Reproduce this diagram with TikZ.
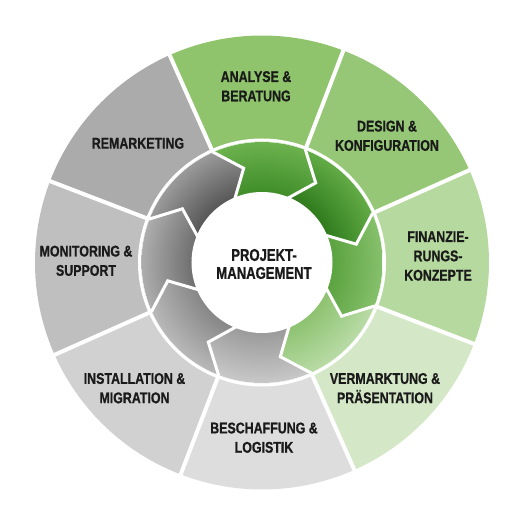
\documentclass[tikz,border=0pt]{standalone}
\usepackage{fontspec}
\newfontface\condbold[FakeStretch=0.80,FakeBold=0.8]{Liberation Sans Bold}
\newfontface\condboldc[FakeStretch=0.77,FakeBold=0.8]{Liberation Sans Bold}
\definecolor{txt}{HTML}{1A1A1A}
\definecolor{segA}{HTML}{8FC46C}
\definecolor{segB}{HTML}{96C776}
\definecolor{segC}{HTML}{B5D99F}
\definecolor{segD}{HTML}{D4E8C7}
\definecolor{segE}{HTML}{DDDDDD}
\definecolor{segF}{HTML}{D1D1D1}
\definecolor{segG}{HTML}{BFBFBF}
\definecolor{segH}{HTML}{ABABAB}
\definecolor{arAi}{HTML}{3E8C28}\definecolor{arAo}{HTML}{6CB24F}
\definecolor{arBi}{HTML}{2E7A1C}\definecolor{arBo}{HTML}{62AB46}
\definecolor{arCi}{HTML}{5AA23F}\definecolor{arCo}{HTML}{86C06B}
\definecolor{arDi}{HTML}{8CC26F}\definecolor{arDo}{HTML}{B9DBA6}
\definecolor{arEi}{HTML}{9A9A9A}\definecolor{arEo}{HTML}{C8C8C8}
\definecolor{arFi}{HTML}{858585}\definecolor{arFo}{HTML}{B8B8B8}
\definecolor{arGi}{HTML}{6E6E6E}\definecolor{arGo}{HTML}{ADADAD}
\definecolor{arHi}{HTML}{555555}\definecolor{arHo}{HTML}{9A9A9A}
\colorlet{ringin}{black}\colorlet{ringout}{white}
\pgfdeclareradialshading[ringin,ringout]{ringshade}{\pgfpoint{0bp}{0bp}}{color(0bp)=(ringin); color(14.3bp)=(ringin); color(25bp)=(ringout); color(50bp)=(ringout)}
\tikzset{
  lbl/.style={font={\fontsize{15.5}{19.3}\condbold}, align=center, inner sep=0pt, text=txt},
  ctr/.style={font={\fontsize{17}{18}\condboldc}, align=center, inner sep=0pt, text=txt},
  sepline/.style={white, line width=4pt},
  chevline/.style={white, line width=3pt, line join=miter}
}
\begin{document}
\begin{tikzpicture}[x=1pt,y=1pt]
\useasboundingbox (-262,-261.5) rectangle (262,262.5);
% outer ring segments
\foreach \a/\c in {114/segA,69/segB,24/segC,-21/segD,-66/segE,-111/segF,-156/segG,-201/segH}{
  \pgfmathsetmacro\angB{\a-45}
  \fill[\c] (\a:227) arc[start angle=\a, end angle=\angB, radius=227] -- (\angB:121) arc[start angle=\angB, end angle=\a, radius=121] -- cycle;
}
% inner arrow ring
\foreach \a/\ci/\co in {114/arAi/arAo,69/arBi/arBo,24/arCi/arCo,-21/arDi/arDo,-66/arEi/arEo,-111/arFi/arFo,-156/arGi/arGo,-201/arHi/arHo}{
  \pgfmathsetmacro\angB{\a-45}
  \pgfmathsetmacro\angT{\a-58}
  \pgfmathsetmacro\angN{\a-13}
  \begin{scope}
    \clip (\a:120.5) arc[start angle=\a, end angle=\angB, radius=120.5] -- (\angT:96) -- (\angB:69) arc[start angle=\angB, end angle=\a, radius=69] -- (\angN:96) -- cycle;
    \colorlet{ringin}{\ci}\colorlet{ringout}{\co}
    \shade[shading=ringshade] (0,0) circle (120.5);
  \end{scope}
}
% white separators
\foreach \a in {114,69,24,-21,-66,-111,-156,-201}{
  \pgfmathsetmacro\angN{\a-13}
  \draw[chevline] (\a:121) -- (\angN:96) -- (\a:68);
  \draw[sepline] (\a:121) -- (\a:229);
}
\draw[white, line width=3pt] (0,0) circle (122.5);
\fill[white] (0,0) circle (70.5);
% labels
\node[lbl] (analyse) at (-6,176.2) {ANALYSE \&\\BERATUNG};
\node[lbl] (design) at (125,126.7) {DESIGN \&\\KONFIGURATION};
\node[lbl] (finanz) at (176,6.5) {FINANZIE-\\RUNGS-\\KONZEPTE};
\node[lbl] (vermarktung) at (123,-125.7) {VERMARKTUNG \&\\PRÄSENTATION};
\node[lbl] (beschaffung) at (2,-175.2) {BESCHAFFUNG \&\\LOGISTIK};
\node[lbl] (installation) at (-127.5,-125.7) {INSTALLATION \&\\MIGRATION};
\node[lbl] (monitoring) at (-176,1.7) {MONITORING \&\\SUPPORT};
\node[lbl] (remarketing) at (-124,119.2) {REMARKETING};
\node[ctr] (projekt) at (2,-1.5) {PROJEKT-\\MANAGEMENT};
\end{tikzpicture}
\end{document}
